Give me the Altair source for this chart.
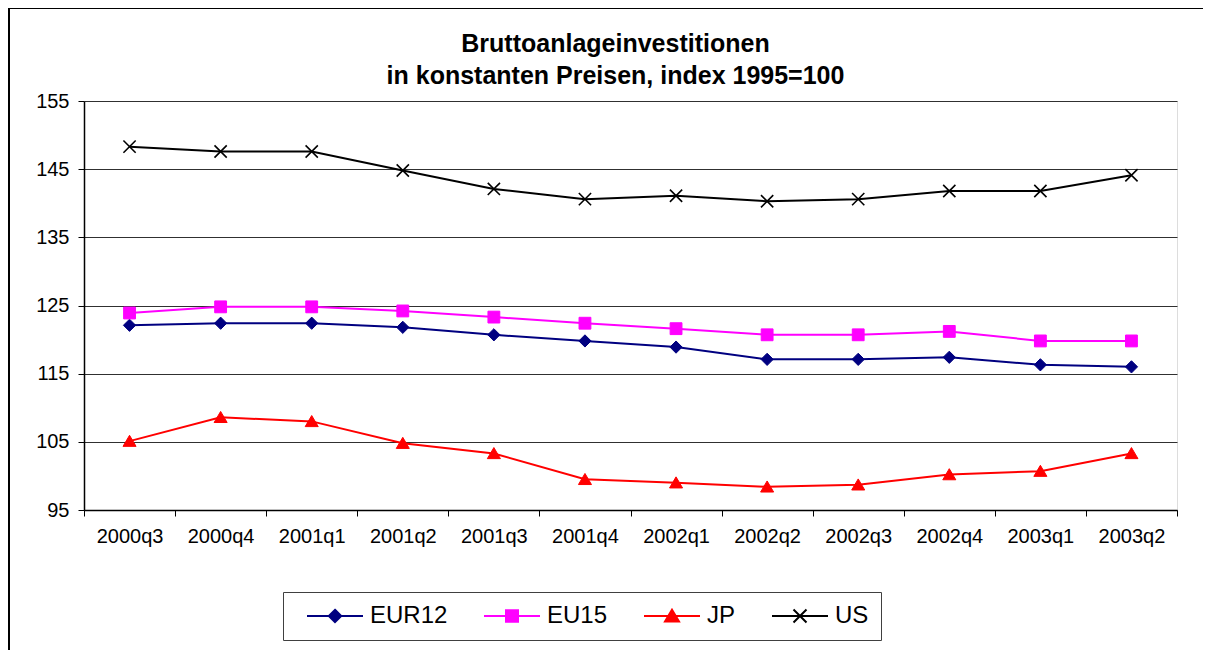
import altair as alt
import pandas as pd

quarters = ['2000q3', '2000q4', '2001q1', '2001q2', '2001q3', '2001q4',
            '2002q1', '2002q2', '2002q3', '2002q4', '2003q1', '2003q2']
eur12 = [122.1, 122.4, 122.4, 121.8, 120.7, 119.8, 118.9, 117.1, 117.1, 117.4, 116.3, 116.0]
eu15 = [123.9, 124.8, 124.8, 124.2, 123.3, 122.4, 121.6, 120.7, 120.7, 121.2, 119.8, 119.8]
jp = [105.1, 108.6, 108.0, 104.8, 103.3, 99.5, 99.0, 98.4, 98.7, 100.2, 100.7, 103.3]
us = [148.3, 147.6, 147.6, 144.8, 142.1, 140.6, 141.1, 140.3, 140.6, 141.8, 141.8, 144.1]

series_names = ['EUR12', 'EU15', 'JP', 'US']
series_colors = ['#000080', '#FF00FF', '#FF0000', '#000000']
y_ticks = [95, 105, 115, 125, 135, 145, 155]

rows = []
for name, vals in zip(series_names, [eur12, eu15, jp, us]):
    for q, v in zip(quarters, vals):
        rows.append({'quarter': q, 'series': name, 'value': v})
df = pd.DataFrame(rows)

FONT = 'Liberation Sans'

x_enc = alt.X('quarter:O', sort=quarters,
              scale=alt.Scale(type='band', paddingInner=0, paddingOuter=0),
              axis=alt.Axis(title=None, labelAngle=0, tickBand='extent', tickSize=6,
                            labelPadding=10, labelFontSize=20, labelFont=FONT,
                            labelColor='black', domainColor='black', domainWidth=1.5,
                            tickColor='black', tickWidth=1, grid=False))
y_enc = alt.Y('value:Q', scale=alt.Scale(domain=[95, 155], nice=False, zero=False),
              axis=alt.Axis(title=None, values=y_ticks, tickSize=6, labelPadding=9,
                            labelFontSize=20, labelFont=FONT, labelColor='black',
                            domainColor='black', domainWidth=1.5, tickColor='black',
                            gridColor='#303030', gridWidth=1))

base = alt.Chart(df)

plot_shapes = {
    'EUR12': ('M0,-1L1,0L0,1L-1,0Z', True, 150),
    'EU15': ('M-1,-1L1,-1L1,1L-1,1Z', True, 140),
    'JP': ('M0,-0.9L1,0.8L-1,0.8Z', True, 170),
    'US': ('M-1,-1L1,1M-1,1L1,-1', False, 150),
}

series_layers = []
for name, col in zip(series_names, series_colors):
    sub = base.transform_filter(alt.datum.series == name)
    series_layers.append(sub.mark_line(strokeWidth=2, color=col).encode(x=x_enc, y=y_enc))
    path, filled, size = plot_shapes[name]
    if filled:
        mk = sub.mark_point(shape=path, filled=True, fill=col, stroke=col,
                            strokeWidth=1, size=size, opacity=1)
    else:
        mk = sub.mark_point(shape=path, filled=False, stroke=col,
                            strokeWidth=1.6, size=size, opacity=1)
    series_layers.append(mk.encode(x=x_enc, y=y_enc))

# legend symbols: a line segment with the marker in its middle (units of 10px)
legend_paths = [
    'M0,0L5.6,0M2.8,-0.62L3.42,0L2.8,0.62L2.18,0Z',
    'M0,0L5.6,0M2.2,-0.58L3.4,-0.58L3.4,0.58L2.2,0.58Z',
    'M0,0L5.6,0M2.8,-0.62L3.5,0.55L2.1,0.55Z',
    'M0,0L5.6,0M2.15,-0.65L3.45,0.65M2.15,0.65L3.45,-0.65',
]

leg = alt.Legend(title=None, orient='none', legendX=199, legendY=491,
                 direction='horizontal', labelFontSize=24, labelFont=FONT,
                 labelColor='black', symbolSize=400, symbolStrokeWidth=2,
                 labelOffset=51, columnPadding=24, padding=12,
                 strokeColor='#404040', fillColor='white', symbolOpacity=1)

legend_layer = base.mark_point(filled=True, opacity=0, strokeWidth=2).encode(
    x=x_enc, y=y_enc,
    fill=alt.Fill('series:N', scale=alt.Scale(domain=series_names, range=series_colors),
                  legend=leg),
    stroke=alt.Stroke('series:N', scale=alt.Scale(domain=series_names, range=series_colors),
                      legend=leg),
    shape=alt.Shape('series:N', scale=alt.Scale(domain=series_names, range=legend_paths),
                    legend=leg),
)

frame_left = base.mark_rule(color='black', strokeWidth=1.2).encode(
    x=alt.value(-75.5), y=alt.value(-93), y2=alt.value(560))
frame_top = base.mark_rule(color='black', strokeWidth=1.2).encode(
    x=alt.value(-76), x2=alt.value(1130), y=alt.value(-92.5))

chart = alt.layer(*series_layers, legend_layer, frame_left, frame_top).properties(
    width=1093, height=409,
    title=alt.Title(text=['Bruttoanlageinvestitionen', 'in konstanten Preisen, index 1995=100'],
                    fontSize=25, fontWeight='bold', font=FONT, color='black',
                    lineHeight=32, anchor='middle', dx=-15, offset=-107,
                    baseline='bottom'),
    autosize=alt.AutoSizeParams(type='none'),
    padding={'left': 76, 'top': 93, 'right': 26, 'bottom': 140},
).configure_view(stroke='#808080', strokeWidth=1.5).configure(background='white')

chart.save('out.html', embed_options={'renderer': 'svg', 'actions': False})
